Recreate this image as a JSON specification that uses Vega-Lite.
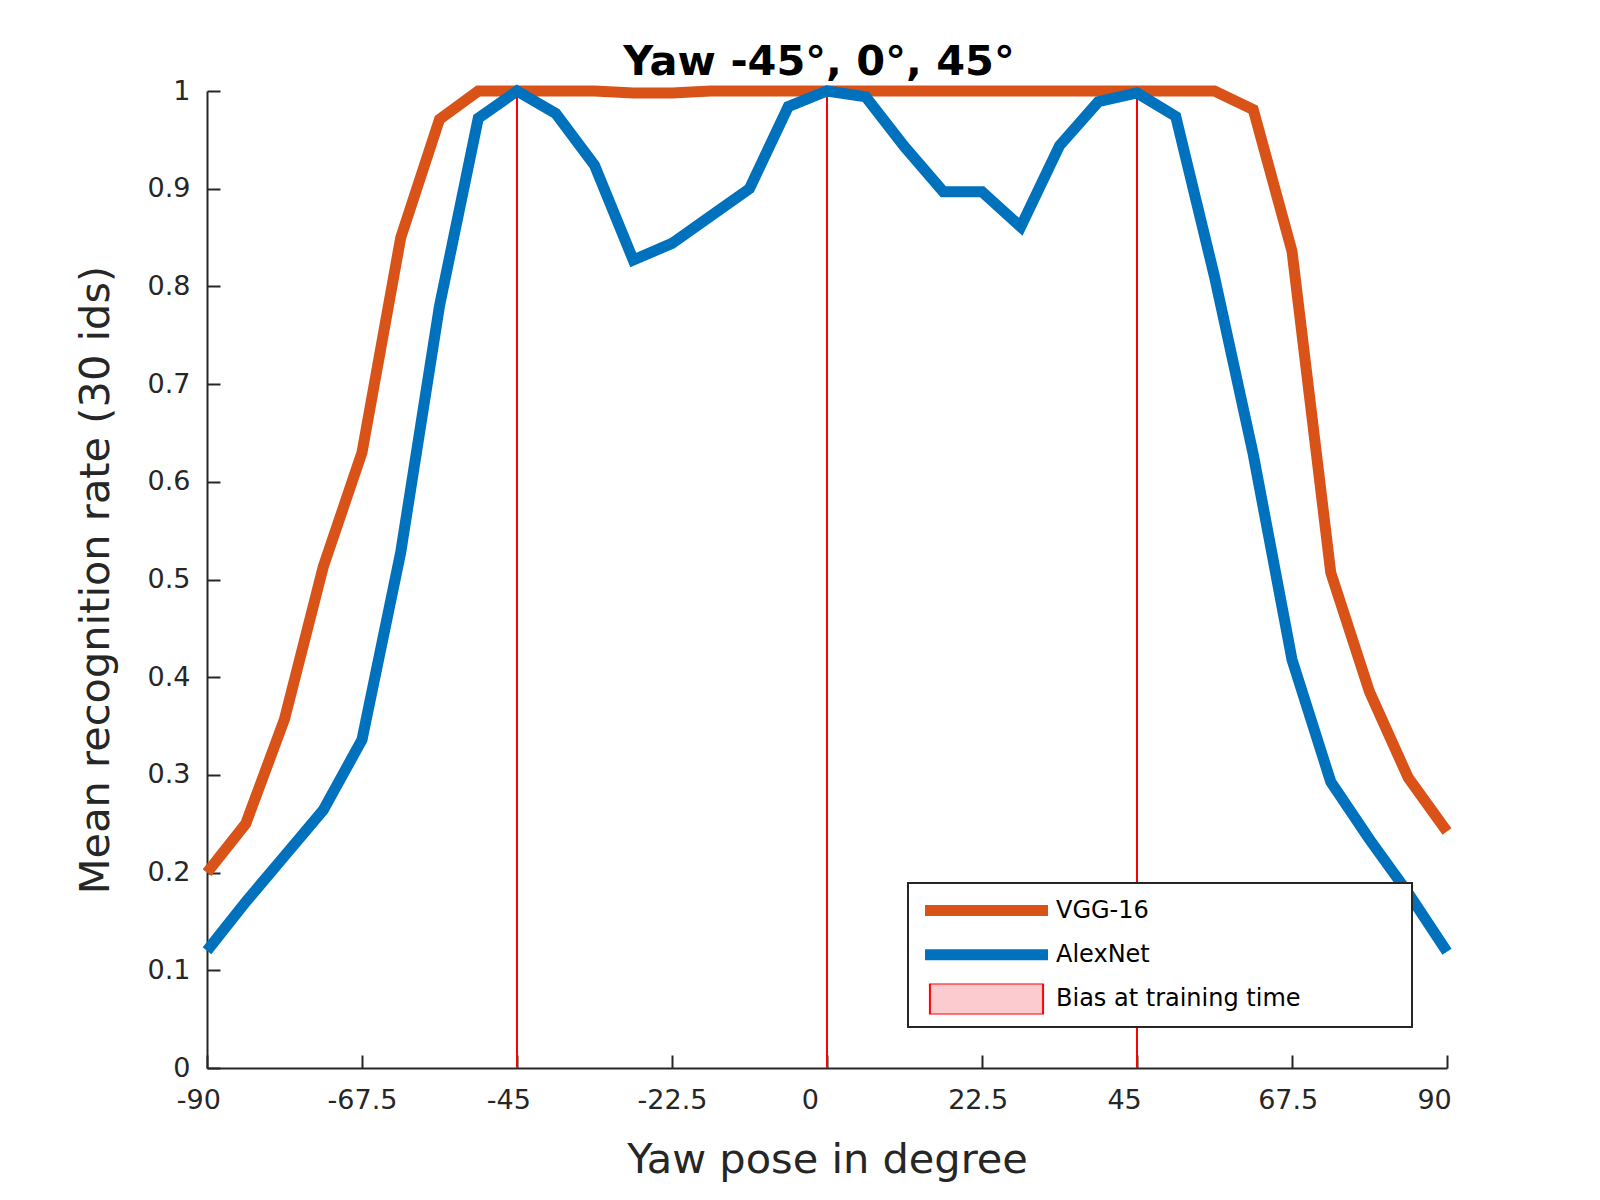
{
  "$schema": "https://vega.github.io/schema/vega-lite/v6.json",
  "width": 1240,
  "height": 977,
  "autosize": {"type": "none"},
  "padding": {"left": 207, "top": 91, "right": 153, "bottom": 132},
  "background": "white",
  "title": {
    "text": "Yaw -45°, 0°, 45°",
    "font": "DejaVu Sans",
    "fontSize": 41.5,
    "fontWeight": "bold",
    "color": "#000000",
    "anchor": "middle",
    "frame": "group",
    "baseline": "alphabetic",
    "offset": -47,
    "dx": -8
  },
  "datasets": {
    "curves": [
      {"yaw": -90, "rate": 0.2, "model": "VGG-16"},
      {"yaw": -84.375, "rate": 0.25, "model": "VGG-16"},
      {"yaw": -78.75, "rate": 0.357, "model": "VGG-16"},
      {"yaw": -73.125, "rate": 0.513, "model": "VGG-16"},
      {"yaw": -67.5, "rate": 0.63, "model": "VGG-16"},
      {"yaw": -61.875, "rate": 0.85, "model": "VGG-16"},
      {"yaw": -56.25, "rate": 0.971, "model": "VGG-16"},
      {"yaw": -50.625, "rate": 1.0, "model": "VGG-16"},
      {"yaw": -45, "rate": 1.0, "model": "VGG-16"},
      {"yaw": -39.375, "rate": 1.0, "model": "VGG-16"},
      {"yaw": -33.75, "rate": 1.0, "model": "VGG-16"},
      {"yaw": -28.125, "rate": 0.998, "model": "VGG-16"},
      {"yaw": -22.5, "rate": 0.998, "model": "VGG-16"},
      {"yaw": -16.875, "rate": 1.0, "model": "VGG-16"},
      {"yaw": -11.25, "rate": 1.0, "model": "VGG-16"},
      {"yaw": -5.625, "rate": 1.0, "model": "VGG-16"},
      {"yaw": 0, "rate": 1.0, "model": "VGG-16"},
      {"yaw": 5.625, "rate": 1.0, "model": "VGG-16"},
      {"yaw": 11.25, "rate": 1.0, "model": "VGG-16"},
      {"yaw": 16.875, "rate": 1.0, "model": "VGG-16"},
      {"yaw": 22.5, "rate": 1.0, "model": "VGG-16"},
      {"yaw": 28.125, "rate": 1.0, "model": "VGG-16"},
      {"yaw": 33.75, "rate": 1.0, "model": "VGG-16"},
      {"yaw": 39.375, "rate": 1.0, "model": "VGG-16"},
      {"yaw": 45, "rate": 1.0, "model": "VGG-16"},
      {"yaw": 50.625, "rate": 1.0, "model": "VGG-16"},
      {"yaw": 56.25, "rate": 1.0, "model": "VGG-16"},
      {"yaw": 61.875, "rate": 0.981, "model": "VGG-16"},
      {"yaw": 67.5, "rate": 0.836, "model": "VGG-16"},
      {"yaw": 73.125, "rate": 0.507, "model": "VGG-16"},
      {"yaw": 78.75, "rate": 0.385, "model": "VGG-16"},
      {"yaw": 84.375, "rate": 0.297, "model": "VGG-16"},
      {"yaw": 90, "rate": 0.242, "model": "VGG-16"},
      {"yaw": -90, "rate": 0.12, "model": "AlexNet"},
      {"yaw": -84.375, "rate": 0.17, "model": "AlexNet"},
      {"yaw": -78.75, "rate": 0.217, "model": "AlexNet"},
      {"yaw": -73.125, "rate": 0.264, "model": "AlexNet"},
      {"yaw": -67.5, "rate": 0.336, "model": "AlexNet"},
      {"yaw": -61.875, "rate": 0.528, "model": "AlexNet"},
      {"yaw": -56.25, "rate": 0.78, "model": "AlexNet"},
      {"yaw": -50.625, "rate": 0.972, "model": "AlexNet"},
      {"yaw": -45, "rate": 1.0, "model": "AlexNet"},
      {"yaw": -39.375, "rate": 0.977, "model": "AlexNet"},
      {"yaw": -33.75, "rate": 0.924, "model": "AlexNet"},
      {"yaw": -28.125, "rate": 0.827, "model": "AlexNet"},
      {"yaw": -22.5, "rate": 0.844, "model": "AlexNet"},
      {"yaw": -16.875, "rate": 0.872, "model": "AlexNet"},
      {"yaw": -11.25, "rate": 0.9, "model": "AlexNet"},
      {"yaw": -5.625, "rate": 0.984, "model": "AlexNet"},
      {"yaw": 0, "rate": 1.0, "model": "AlexNet"},
      {"yaw": 5.625, "rate": 0.994, "model": "AlexNet"},
      {"yaw": 11.25, "rate": 0.943, "model": "AlexNet"},
      {"yaw": 16.875, "rate": 0.897, "model": "AlexNet"},
      {"yaw": 22.5, "rate": 0.897, "model": "AlexNet"},
      {"yaw": 28.125, "rate": 0.861, "model": "AlexNet"},
      {"yaw": 33.75, "rate": 0.944, "model": "AlexNet"},
      {"yaw": 39.375, "rate": 0.989, "model": "AlexNet"},
      {"yaw": 45, "rate": 0.998, "model": "AlexNet"},
      {"yaw": 50.625, "rate": 0.974, "model": "AlexNet"},
      {"yaw": 56.25, "rate": 0.81, "model": "AlexNet"},
      {"yaw": 61.875, "rate": 0.628, "model": "AlexNet"},
      {"yaw": 67.5, "rate": 0.418, "model": "AlexNet"},
      {"yaw": 73.125, "rate": 0.293, "model": "AlexNet"},
      {"yaw": 78.75, "rate": 0.234, "model": "AlexNet"},
      {"yaw": 84.375, "rate": 0.179, "model": "AlexNet"},
      {"yaw": 90, "rate": 0.119, "model": "AlexNet"}
    ],
    "bias": [
      {"yaw": -45, "model": "Bias at training time"},
      {"yaw": 0, "model": "Bias at training time"},
      {"yaw": 45, "model": "Bias at training time"}
    ]
  },
  "layer": [
    {
      "data": {"name": "bias"},
      "mark": {"type": "rule", "strokeWidth": 2},
      "encoding": {
        "x": {"field": "yaw", "type": "quantitative"},
        "color": {"field": "model", "type": "nominal"}
      }
    },
    {
      "data": {"name": "curves"},
      "mark": {"type": "line", "strokeWidth": 11, "strokeJoin": "miter", "strokeCap": "butt"},
      "encoding": {
        "x": {
          "field": "yaw",
          "type": "quantitative",
          "scale": {"domain": [-90, 90], "nice": false, "zero": false},
          "axis": {
            "title": "Yaw pose in degree",
            "values": [-90, -67.5, -45, -22.5, 0, 22.5, 45, 67.5, 90],
            "labelExpr": "'' + datum.value",
            "labelFlush": false,
            "labelOffset": {"expr": "-(5 - length('' + datum.value)) * 4.3"},
            "labelPadding": 32,
            "titlePadding": 26
          }
        },
        "y": {
          "field": "rate",
          "type": "quantitative",
          "scale": {"domain": [0, 1], "nice": false},
          "axis": {
            "title": "Mean recognition rate (30 ids)",
            "values": [0, 0.1, 0.2, 0.3, 0.4, 0.5, 0.6, 0.7, 0.8, 0.9, 1],
            "labelExpr": "'' + datum.value",
            "labelFlush": false,
            "labelPadding": 30,
            "titlePadding": 30
          }
        },
        "color": {
          "field": "model",
          "type": "nominal",
          "scale": {
            "domain": ["VGG-16", "AlexNet", "Bias at training time"],
            "range": ["#D95319", "#0072BD", "#FF0000"]
          },
          "legend": {
            "title": null,
            "orient": "none",
            "legendX": 701,
            "legendY": 792,
            "symbolType": "stroke",
            "symbolSize": 15129,
            "symbolStrokeWidth": 11,
            "symbolOffset": 54.5,
            "clipHeight": 31,
            "rowPadding": 13.3,
            "padding": 12,
            "labelFont": "DejaVu Sans",
            "labelFontSize": 24,
            "labelColor": "#000000",
            "labelOffset": 57.5,
            "labelLimit": 0,
            "labelExpr": "datum.label == 'Bias at training time' ? datum.label + '\u00a0\u00a0\u00a0\u00a0\u00a0\u00a0\u00a0\u00a0\u00a0\u00a0\u00a0\u00a0\u00a0\u200b' : datum.label",
            "strokeColor": "#262626",
            "fillColor": "#ffffff",
            "encode": {
              "symbols": {
                "update": {
                  "shape": {"signal": "datum.value == 'Bias at training time' ? 'M-0.92,-0.252H0.92V0.252H-0.92Z' : 'stroke'"},
                  "fill": {"signal": "datum.value == 'Bias at training time' ? '#fbcbd0' : 'transparent'"},
                  "strokeWidth": {"signal": "datum.value == 'Bias at training time' ? 2 : 11"}
                }
              }
            }
          }
        }
      }
    }
  ],
  "config": {
    "view": {"stroke": null},
    "axis": {
      "grid": false,
      "domainColor": "#262626",
      "domainWidth": 2,
      "tickColor": "#262626",
      "tickWidth": 2,
      "tickSize": -13,
      "labelFont": "DejaVu Sans",
      "labelFontSize": 27,
      "labelColor": "#262626",
      "titleFont": "DejaVu Sans",
      "titleFontSize": 41.5,
      "titleFontWeight": "normal",
      "titleColor": "#262626"
    },
    "legend": {"strokeWidth": 2}
  }
}
